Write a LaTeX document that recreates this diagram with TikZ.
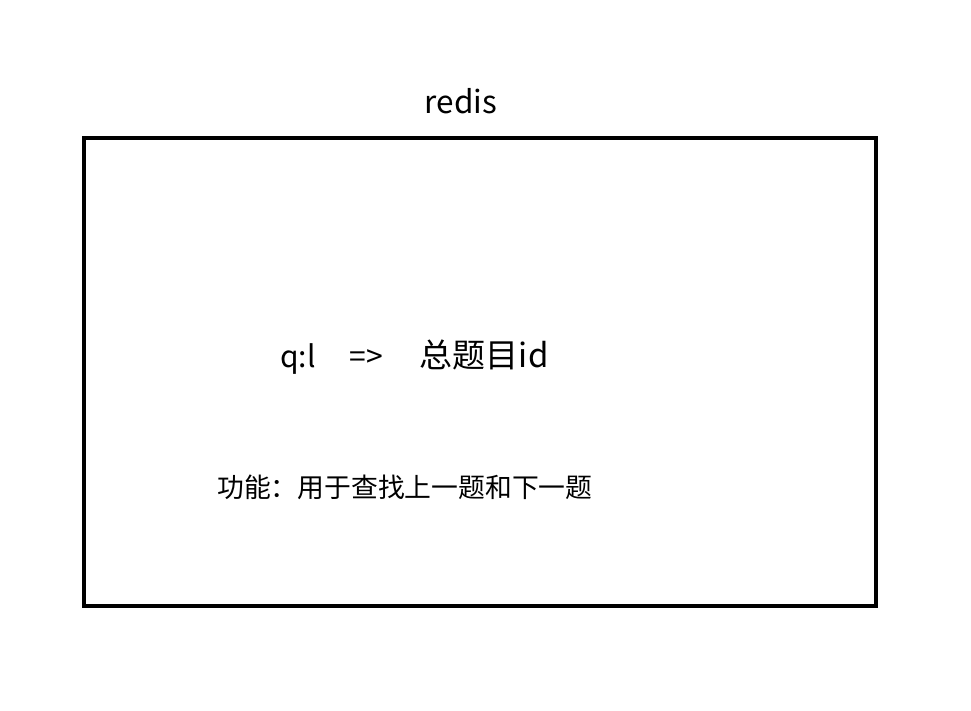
\documentclass[tikz,border=0pt]{standalone}
\usepackage{fontspec}
\setmainfont{Noto Sans CJK SC}
\usetikzlibrary{positioning}

\begin{document}
\begin{tikzpicture}[x=1pt,y=-1pt]
      \def\boxwidth{4pt}

      \useasboundingbox (0,0) rectangle (971,711);
      \draw[line width=\boxwidth] (84,138) rectangle (876,606);
      \node[anchor=base] (title) at (461,114) {\fontsize{31.5}{36}\selectfont redis};
      \node[anchor=base west, inner sep=0pt] (key) at (280,367)
        {\fontsize{30}{36}\selectfont q:l\hspace{34pt}=>\hspace{37pt}{\fontsize{33}{40}\selectfont 总题目id}};
      \node[anchor=west, inner sep=0pt] (usage) at (217,487)
        {\fontsize{26.8}{32}\selectfont 功能：用于查找上一题和下一题};

    \end{tikzpicture}
\end{document}
